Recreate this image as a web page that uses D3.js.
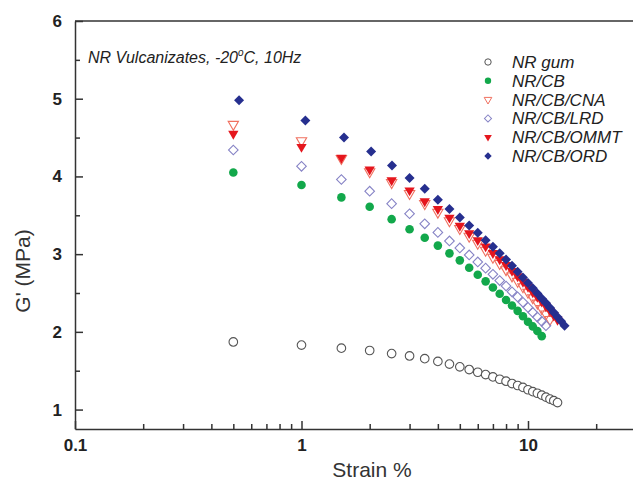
<!DOCTYPE html>
<html>
<head>
<meta charset="utf-8">
<script src="https://cdn.jsdelivr.net/npm/d3@7"></script>
<style>
  body { margin: 0; background: #fff; }
  text { font-family: "Liberation Sans", Arial, sans-serif; }
</style>
</head>
<body>
<div id="chart"></div>
<script>
// Data (strain %, G' in MPa)
const seriesNames = ["NR gum", "NR/CB", "NR/CB/CNA", "NR/CB/LRD", "NR/CB/OMMT", "NR/CB/ORD"];

const strainGum = [0.5, 1, 1.5, 2, 2.5, 3, 3.5, 4, 4.5, 5, 5.5, 6, 6.5, 7, 7.5, 8, 8.5, 9, 9.5, 10, 10.5, 11, 11.5, 12, 12.5, 13, 13.5];
const gGum = [1.87, 1.83, 1.79, 1.76, 1.72, 1.69, 1.655, 1.62, 1.585, 1.55, 1.515, 1.48, 1.45, 1.42, 1.39, 1.365, 1.335, 1.31, 1.285, 1.255, 1.23, 1.21, 1.185, 1.16, 1.135, 1.115, 1.09];

const strainCB = [0.5, 1, 1.5, 2, 2.5, 3, 3.5, 4, 4.5, 5, 5.5, 6, 6.5, 7, 7.5, 8, 8.5, 9, 9.5, 10, 10.5, 11, 11.5];
const gCB = [4.05, 3.89, 3.73, 3.61, 3.45, 3.32, 3.21, 3.11, 3.01, 2.92, 2.825, 2.735, 2.65, 2.57, 2.49, 2.41, 2.34, 2.27, 2.2, 2.13, 2.07, 2.01, 1.945];

const strainCNA = [0.5, 1, 1.5, 2, 2.5, 3, 3.5, 4, 4.5, 5, 5.5, 6, 6.5, 7, 7.5, 8, 8.5, 9, 9.5, 10, 10.5, 11, 11.5, 12, 12.5];
const gCNA = [4.67, 4.46, 4.23, 4.06, 3.92, 3.78, 3.65, 3.54, 3.43, 3.33, 3.23, 3.14, 3.05, 2.96, 2.88, 2.8, 2.72, 2.65, 2.58, 2.51, 2.44, 2.37, 2.3, 2.23, 2.16];

const strainLRD = [0.5, 1, 1.5, 2, 2.5, 3, 3.5, 4, 4.5, 5, 5.5, 6, 6.5, 7, 7.5, 8, 8.5, 9, 9.5, 10, 10.5, 11, 11.5, 12];
const gLRD = [4.34, 4.13, 3.96, 3.81, 3.65, 3.52, 3.39, 3.28, 3.17, 3.08, 2.99, 2.9, 2.82, 2.74, 2.66, 2.59, 2.515, 2.45, 2.38, 2.315, 2.25, 2.19, 2.135, 2.08];

const strainOMMT = [0.5, 1, 1.5, 2, 2.5, 3, 3.5, 4, 4.5, 5, 5.5, 6, 6.5, 7, 7.5, 8, 8.5, 9, 9.5, 10, 10.5, 11, 11.5, 12, 12.5, 13, 13.5];
const gOMMT = [4.55, 4.38, 4.24, 4.09, 3.95, 3.82, 3.68, 3.58, 3.47, 3.365, 3.27, 3.18, 3.1, 3.015, 2.935, 2.86, 2.785, 2.715, 2.645, 2.58, 2.51, 2.45, 2.39, 2.33, 2.27, 2.21, 2.155];

const strainORD = [0.53, 1.04, 1.54, 2.03, 2.51, 3, 3.5, 4, 4.5, 5, 5.5, 6, 6.5, 7, 7.5, 8, 8.5, 9, 9.5, 10, 10.5, 11, 11.5, 12, 12.5, 13, 13.5, 14, 14.5];
const gORD = [4.98, 4.72, 4.5, 4.32, 4.14, 3.98, 3.84, 3.7, 3.58, 3.47, 3.37, 3.275, 3.18, 3.095, 3.01, 2.93, 2.85, 2.775, 2.7, 2.63, 2.56, 2.495, 2.43, 2.37, 2.31, 2.25, 2.19, 2.135, 2.08];

const xTickValues = [0.1, 1, 10];
const yTickValues = [1, 2, 3, 4, 5, 6];
const yMinorValues = [1.5, 2.5, 3.5, 4.5, 5.5];

// The svg
const w = 633;
const h = 485;
const svg = d3
  .select("#chart")
  .append("svg")
  .attr("width", w)
  .attr("height", h);

// Scales (plot runs off the right edge, like the cropped original)
const x = d3.scaleLog().domain([0.1, 100]).range([75, 754.5]);
const y = d3.scaleLinear().domain([0.75, 6]).range([429, 21]);

const axisColor = "#333";

// top frame line
svg
  .append("line")
  .attr("x1", x(0.1))
  .attr("x2", w)
  .attr("y1", y(6))
  .attr("y2", y(6))
  .attr("stroke", axisColor)
  .attr("stroke-width", 1.5);

// minor ticks
const xMinor = x.ticks().filter((d) => !xTickValues.includes(d) && d < 100);
svg
  .append("g")
  .attr("transform", `translate(0,${y(0.75)})`)
  .call(d3.axisBottom(x).tickValues(xMinor).tickSizeInner(-5).tickSizeOuter(0).tickFormat(""))
  .call((g) => g.select(".domain").remove());
svg
  .append("g")
  .attr("transform", `translate(${x(0.1)},0)`)
  .call(d3.axisLeft(y).tickValues(yMinorValues).tickSizeInner(-5).tickSizeOuter(0).tickFormat(""))
  .call((g) => g.select(".domain").remove());

// major axes
const xAxis = svg
  .append("g")
  .attr("transform", `translate(0,${y(0.75)})`)
  .call(
    d3.axisBottom(x).tickValues(xTickValues).tickFormat((d) => String(d))
      .tickSizeInner(-8).tickSizeOuter(0).tickPadding(10)
  );
const yAxis = svg
  .append("g")
  .attr("transform", `translate(${x(0.1)},0)`)
  .call(
    d3.axisLeft(y).tickValues(yTickValues).tickFormat((d) => String(d))
      .tickSizeInner(-8).tickSizeOuter(0).tickPadding(13)
  );

svg.selectAll(".tick line, .domain")
  .attr("stroke", axisColor)
  .attr("stroke-width", 1.5);
svg.selectAll(".tick text")
  .attr("fill", "#222")
  .style("font-size", "17px")
  .style("font-weight", "bold")
  .style("font-family", '"Liberation Sans", Arial, sans-serif');

// axis titles
svg
  .append("text")
  .attr("x", 372)
  .attr("y", 477)
  .attr("text-anchor", "middle")
  .attr("fill", "#333")
  .style("font-size", "21px")
  .text("Strain %");

svg
  .append("text")
  .attr("transform", "translate(30,271) rotate(-90)")
  .attr("text-anchor", "middle")
  .attr("fill", "#333")
  .style("font-size", "21px")
  .text("G' (MPa)");

// annotation
const note = svg
  .append("text")
  .attr("x", 88)
  .attr("y", 63)
  .attr("fill", "#222")
  .style("font-size", "16px")
  .style("font-style", "italic");
note.append("tspan").text("NR Vulcanizates, -20");
note.append("tspan").attr("dy", -7).style("font-size", "10px").text("o");
note.append("tspan").attr("dy", 7).text("C, 10Hz");

// series styling
const styles = [
  { type: d3.symbolCircle, size: 58, rot: 0, fill: "#fff", stroke: "#555" },
  { type: d3.symbolCircle, size: 58, rot: 0, fill: "#12a84b", stroke: "none" },
  { type: d3.symbolTriangle, size: 46, rot: 180, fill: "none", stroke: "#f0705f" },
  { type: d3.symbolSquare, size: 46, rot: 45, fill: "none", stroke: "#8784c6" },
  { type: d3.symbolTriangle, size: 46, rot: 180, fill: "#e5161d", stroke: "none" },
  { type: d3.symbolSquare, size: 50, rot: 45, fill: "#262f8f", stroke: "none" },
];

const strains = [strainGum, strainCB, strainCNA, strainLRD, strainOMMT, strainORD];
const gValues = [gGum, gCB, gCNA, gLRD, gOMMT, gORD];

const series = seriesNames.map((name, i) => ({
  name: name,
  style: styles[i],
  points: strains[i].map((s, j) => ({ strain: s, g: gValues[i][j] })),
}));

// Draw the points
series.forEach(function (sr) {
  svg
    .append("g")
    .selectAll("path")
    .data(sr.points)
    .join("path")
    .attr("d", d3.symbol().type(sr.style.type).size(sr.style.size))
    .attr("transform", (d) => `translate(${x(d.strain)},${y(d.g)}) rotate(${sr.style.rot})`)
    .attr("fill", sr.style.fill)
    .attr("stroke", sr.style.stroke)
    .attr("stroke-width", 1.1);
});

// legend
const legend = svg
  .append("g")
  .selectAll("g")
  .data(series)
  .join("g")
  .attr("transform", (d, i) => `translate(488,${62 + i * 18.8})`);

legend
  .append("path")
  .attr("d", (d) => d3.symbol().type(d.style.type).size(d.style.size * 0.55)())
  .attr("transform", (d) => `rotate(${d.style.rot})`)
  .attr("fill", (d) => d.style.fill)
  .attr("stroke", (d) => d.style.stroke)
  .attr("stroke-width", 1);

legend
  .append("text")
  .attr("x", 24)
  .attr("dy", "0.35em")
  .attr("fill", "#222")
  .style("font-size", "17px")
  .style("font-style", "italic")
  .text((d) => d.name);
</script>
</body>
</html>
